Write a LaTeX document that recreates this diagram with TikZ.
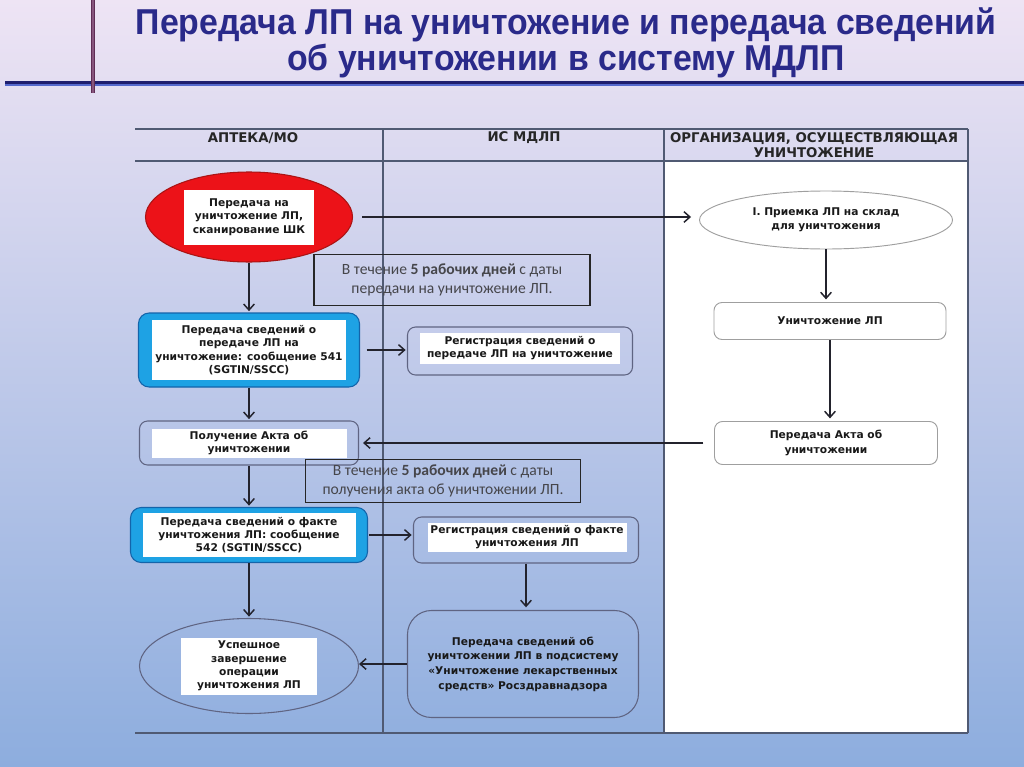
\documentclass[tikz,border=0pt]{standalone}
\usepackage{fontspec}
\usetikzlibrary{arrows.meta,shapes.geometric}
\newfontfamily\nodefont{DejaVu Sans}
\newfontfamily\notefont{Carlito}
\newfontfamily\titlefont[FakeStretch=0.94]{Liberation Sans}
\definecolor{bgtop}{RGB}{238,228,244}
\definecolor{bgmid}{RGB}{205,205,236}
\definecolor{bgbot}{RGB}{141,173,222}
\definecolor{titlecol}{RGB}{42,42,138}
\definecolor{maroon}{RGB}{135,85,125}
\definecolor{maroonD}{RGB}{95,45,85}
\definecolor{lnavy}{RGB}{30,30,110}
\definecolor{lblue}{RGB}{85,105,205}
\definecolor{framecol}{RGB}{80,90,115}
\definecolor{boxblue}{RGB}{30,162,228}
\definecolor{boxblueD}{RGB}{20,100,170}
\definecolor{redfill}{RGB}{236,18,24}
\definecolor{redD}{RGB}{170,20,20}
\definecolor{grayblue}{RGB}{95,100,130}
\definecolor{arrcol}{RGB}{35,35,45}
\definecolor{notetext}{RGB}{70,70,75}
\tikzset{
  sz/.style 2 args={minimum width=#1*0.75pt, minimum height=#2*0.75pt},
  wbox/.style={fill=white, inner sep=0pt, align=center, text=black!90,
    font=\nodefont\bfseries\fontsize{8}{10}\selectfont},
  bluebox/.style={rectangle, rounded corners=8pt, fill=boxblue, draw=boxblueD, line width=0.8pt, inner sep=0pt},
  redell/.style={ellipse, fill=redfill, draw=redD, line width=0.8pt, inner sep=0pt},
  plainell/.style={ellipse, draw=grayblue, line width=0.8pt, inner sep=0pt},
  whiteell/.style={ellipse, fill=white, draw=gray!75, line width=0.7pt, inner sep=0pt, align=center,
    text=black!90, font=\nodefont\bfseries\fontsize{8}{10.5}\selectfont},
  regbox/.style={rectangle, rounded corners=6pt, draw=grayblue, line width=0.8pt, inner sep=0pt},
  bigbox/.style={rectangle, rounded corners=18pt, draw=grayblue, line width=0.8pt, inner sep=0pt,
    align=center, text=black!90, font=\nodefont\bfseries\fontsize{8}{11}\selectfont},
  rbox/.style={rectangle, rounded corners=6pt, fill=white, draw=gray!75, line width=0.7pt, inner sep=0pt,
    align=center, text=black!90, font=\nodefont\bfseries\fontsize{8}{11.5}\selectfont},
  notebox/.style={rectangle, draw=black!85, line width=1.3pt, inner sep=0pt, align=center,
    text=notetext, font=\notefont\fontsize{11.7}{14.5}\selectfont},
  hdr/.style={align=center, inner sep=0pt, text=black!85,
    font=\nodefont\bfseries\fontsize{10}{11.5}\selectfont},
  titletext/.style={inner sep=0pt, text=titlecol, font=\titlefont\bfseries\fontsize{27}{32}\selectfont},
  arr/.style={draw=arrcol, line width=1.1pt, -{Straight Barb[length=4.5pt,width=8pt,line width=1.1pt]}},
  frameline/.style={draw=framecol, line width=0.9pt}
}
\begin{document}
\begin{tikzpicture}[x=0.75pt,y=-0.75pt]
\useasboundingbox (0,0) rectangle (1024,767);
\shade[top color=bgtop, middle color=bgmid, bottom color=bgbot] (0,0) rectangle (1024,767);

% title decorations
\draw[lnavy, line width=1.6pt] (5,82.5) -- (1024,82.5);
\draw[lblue, line width=1.2pt] (5,85.3) -- (1024,85.3);
\fill[maroon] (91,0) rectangle (94.5,93);
\draw[maroonD, line width=0.5pt] (91,0) -- (91,93) (94.5,0) -- (94.5,93);

% title
\node[titletext, anchor=base] (t1) at (566,35) {Передача ЛП на уничтожение и передача сведений};
\node[titletext, anchor=base] (t2) at (566,70) {об уничтожении в систему МДЛП};

% swimlane frame
\fill[white] (664,161) rectangle (968,733);
\draw[frameline] (135,129) -- (968,129);
\draw[frameline] (135,161) -- (968,161);
\draw[frameline] (135,733) -- (968,733);
\draw[frameline] (383,129) -- (383,733);
\draw[frameline] (664,129) -- (664,733);
\draw[frameline] (968,129) -- (968,733);

% headers
\node[hdr] (h1) at (253,138) {АПТЕКА/МО};
\node[hdr] (h2) at (524,138) {ИС МДЛП};
\node[hdr] (h3) at (814,145) {ОРГАНИЗАЦИЯ, ОСУЩЕСТВЛЯЮЩАЯ\\УНИЧТОЖЕНИЕ};

% left column
\node[redell, sz={207}{90}] (e1) at (249,217) {};
\node[wbox, sz={130}{55}] (e1t) at (e1) {Передача на\\уничтожение ЛП,\\сканирование ШК};

\node[bluebox, sz={221}{74}] (b1) at (249,350) {};
\node[wbox, sz={194}{60}] (b1t) at (b1) {Передача сведений о\\передаче ЛП на\\уничтожение: сообщение 541\\(SGTIN/SSCC)};

\node[regbox, sz={219}{44}] (g1) at (249,443) {};
\node[wbox, sz={195}{29}] (g1t) at (g1) {Получение Акта об\\уничтожении};

\node[bluebox, sz={237}{55}] (b2) at (249,535) {};
\node[wbox, sz={213}{44}] (b2t) at (b2) {Передача сведений о факте\\уничтожения ЛП: сообщение\\542 (SGTIN/SSCC)};

\node[plainell, sz={219}{95}] (e2) at (249,666) {};
\node[wbox, sz={136}{57}] (e2t) at (e2) {Успешное\\завершение\\операции\\уничтожения ЛП};

% middle column
\node[regbox, sz={225}{48}] (r1) at (520,351) {};
\node[wbox, sz={200}{31}] (r1t) at (520,348) {Регистрация сведений о\\передаче ЛП на уничтожение};

\node[regbox, sz={225}{46}] (r2) at (526,540) {};
\node[wbox, sz={199}{29}] (r2t) at (527,537) {Регистрация сведений о факте\\уничтожения ЛП};

\node[bigbox, sz={231}{107}] (p) at (523,664) {Передача сведений об\\уничтожении ЛП в подсистему\\«Уничтожение лекарственных\\средств» Росздравнадзора};

% notes
\node[notebox, sz={276}{51}] (n1) at (452,280) {В течение \textbf{5 рабочих дней} с даты\\передачи на уничтожение ЛП.};
\node[notebox, sz={275}{43}] (n2) at (443,481) {В течение \textbf{5 рабочих дней} с даты\\получения акта об уничтожении ЛП.};

% right column
\node[whiteell, sz={253}{58}] (e3) at (826,220) {I. Приемка ЛП на склад\\для уничтожения};
\node[rbox, sz={232}{37}] (d1) at (830,321) {Уничтожение ЛП};
\node[rbox, sz={223}{43}] (a1) at (826,443) {Передача Акта об\\уничтожении};

% connectors
\draw[arr, shorten >=1pt] (e1.south) -- (b1.north);
\draw[arr, shorten >=1pt] (b1.south) -- (g1.north);
\draw[arr, shorten >=1pt] (g1.south) -- (b2.north);
\draw[arr, shorten >=1pt] (b2.south) -- (e2.north);
\draw[arr, shorten <=5pt, shorten >=1pt] (b1.east) -- (b1.east -| r1.west);
\draw[arr, shorten <=1pt, shorten >=1pt] (b2.east) -- (b2.east -| r2.west);
\draw[arr, shorten >=2pt] (r2.south) -- (r2.south |- p.north);
\draw[arr] (p.west) -- (p.west -| e2.east);
\draw[arr, shorten <=7pt, shorten >=6pt] (e1.east) -- (e1.east -| e3.west);
\draw[arr, shorten >=2pt] (e3.south) -- (e3.south |- d1.north);
\draw[arr, shorten >=2pt] (d1.south) -- (d1.south |- a1.north);
\draw[arr, shorten <=8pt, shorten >=3pt] (a1.west) -- (a1.west -| g1.east);
\end{tikzpicture}
\end{document}
